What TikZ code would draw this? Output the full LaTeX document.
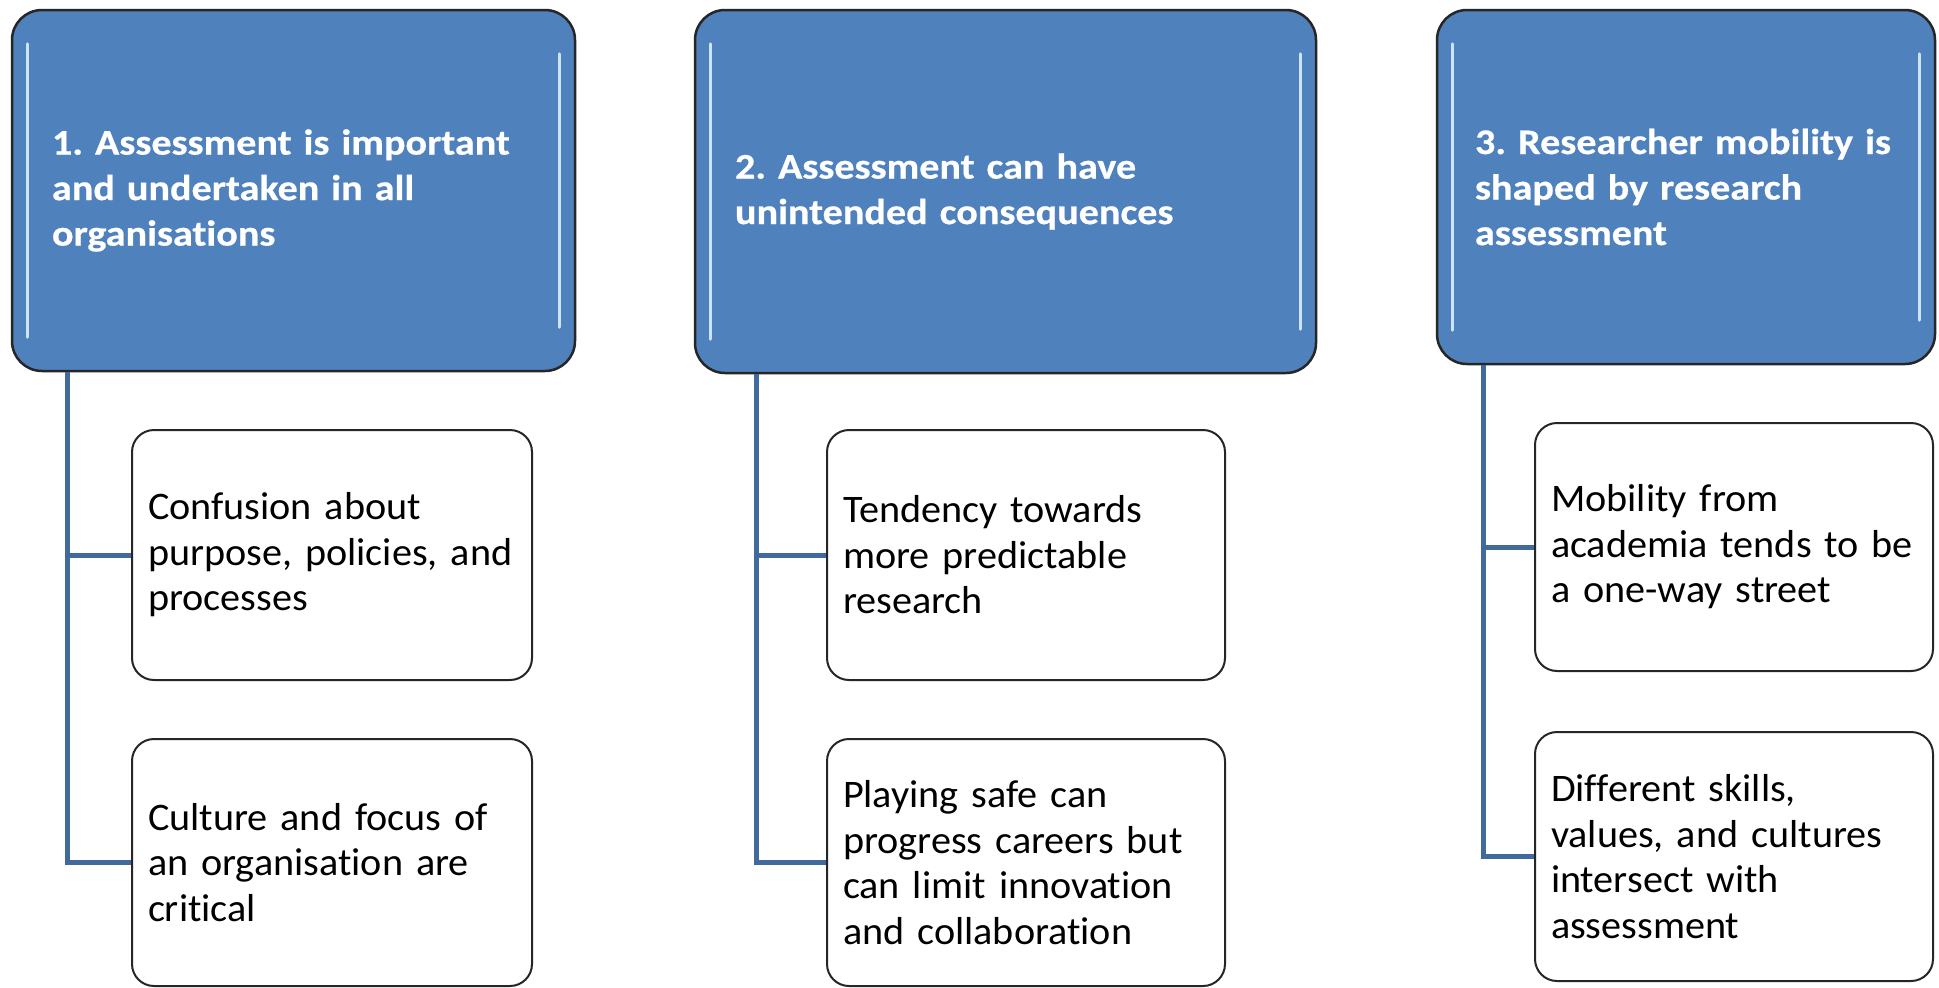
\documentclass[tikz,border=0pt]{standalone}
\usepackage{fontspec}
\setmainfont{Carlito}[Ligatures=NoCommon]
\newfontfamily\headfont{Carlito}[Ligatures=NoCommon, FakeStretch=1.115, FakeBold=0.6]
\newfontfamily\childfont{Carlito}[Ligatures=NoCommon, FakeStretch=1.03]
\frenchspacing
\begin{document}
\begin{tikzpicture}[x=1pt,y=-1pt,
  head/.style={draw=black!85, line width=2.5pt, fill=hblue, rounded corners=30pt,
    align=left, text=white, font=\headfont\fontsize{36}{45.5}\selectfont\bfseries, inner ysep=0pt},
  child/.style={draw=black!85, line width=2pt, fill=white, rounded corners=22pt,
    align=left, text=black, font=\childfont\fontsize{39}{45.5}\selectfont, inner xsep=16pt, inner ysep=0pt},
  conn/.style={draw=cblue, line width=5pt},
  gloss/.style={draw=gl, line width=3pt, line cap=round}]
\definecolor{hblue}{HTML}{4F81BD}
\definecolor{cblue}{HTML}{41699B}
\definecolor{gl}{HTML}{CFE3F7}
\useasboundingbox (0,0) rectangle (1939,988);
\fill[white] (0,0) rectangle (1939,988);

% header boxes
\node[head, minimum width=563pt, minimum height=361pt, text width=483pt, inner xsep=40pt] (h1) at (293.5,190.5)
  {1. Assessment is important\\and undertaken in all\\organisations};
\node[head, minimum width=621pt, minimum height=363pt, text width=541pt, inner xsep=40pt] (h2) at (1005.5,191.5)
  {2. Assessment can have\\unintended consequences};
\node[head, minimum width=498pt, minimum height=354pt, text width=422pt, inner xsep=38pt] (h3) at (1686,187)
  {3. Researcher mobility is\\shaped by research\\assessment};

% glossy edges
\foreach \n in {h1,h2,h3}{
  \draw[gloss] ([xshift=17pt,yshift=-35pt]\n.north west) -- ([xshift=17pt,yshift=35pt]\n.south west);
  \draw[gloss] ([xshift=-17pt,yshift=-45pt]\n.north east) -- ([xshift=-17pt,yshift=45pt]\n.south east);
}

% child boxes
\node[child, minimum width=400pt, minimum height=250pt, text width=368pt] (c11) at (332,555)
  {Confusion about\\purpose, policies, and\\processes};
\node[child, minimum width=400pt, minimum height=247pt, text width=368pt] (c12) at (332,862.5)
  {Culture and focus of\\an organisation are\\critical};
\node[child, minimum width=398pt, minimum height=250pt, text width=366pt] (c21) at (1026,555)
  {Tendency towards\\more predictable\\research};
\node[child, minimum width=398pt, minimum height=247pt, text width=366pt] (c22) at (1026,862.5)
  {Playing safe can\\progress careers but\\can limit innovation\\and collaboration};
\node[child, minimum width=398pt, minimum height=248pt, text width=366pt] (c31) at (1734,547)
  {Mobility from\\academia tends to be\\a one-way street};
\node[child, minimum width=398pt, minimum height=249pt, text width=366pt] (c32) at (1734,856.5)
  {Different skills,\\values, and cultures\\intersect with\\assessment};

% connectors
\draw[conn] ([xshift=57pt]h1.south west) |- (c12.west);
\draw[conn] ([xshift=57pt]h1.south west |- c11.west) -- (c11.west);
\draw[conn] ([xshift=63pt]h2.south west) |- (c22.west);
\draw[conn] ([xshift=63pt]h2.south west |- c21.west) -- (c21.west);
\draw[conn] ([xshift=48pt]h3.south west) |- (c32.west);
\draw[conn] ([xshift=48pt]h3.south west |- c31.west) -- (c31.west);
\end{tikzpicture}
\end{document}
